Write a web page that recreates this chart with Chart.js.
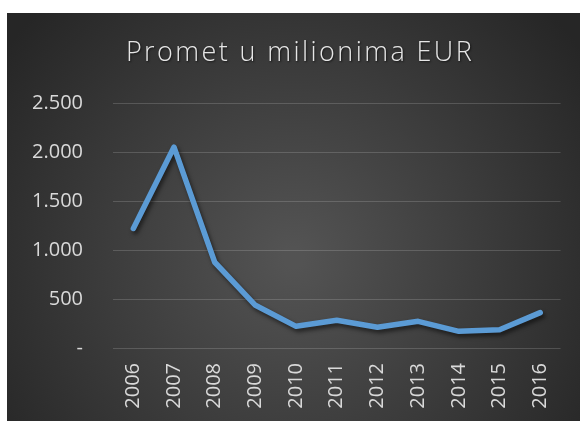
<!DOCTYPE html>
<html>
<head>
<meta charset="utf-8">
<script src="https://cdn.jsdelivr.net/npm/chart.js@4"></script>
<style>
  html, body { margin: 0; padding: 0; background: #fff; }
  #wrap { position: absolute; left: 7px; top: 13px; width: 573px; height: 408px; }
</style>
</head>
<body>
<div id="wrap"><canvas id="promChart" width="573" height="408"></canvas></div>
<script>
const titleText = 'Promet u milionima EUR';
const years = ['2006', '2007', '2008', '2009', '2010', '2011', '2012', '2013', '2014', '2015', '2016'];
const promet = [1220, 2050, 875, 436, 221, 283, 211, 272, 170, 187, 361];
const yMax = 2500;
const yStep = 500;

// 2.500 format, nula kao "-"
const fmt = (v) => v === 0 ? '-' : v.toLocaleString('de-DE');

// pozadina s radijalnim gradijentom
const bgPlugin = {
  id: 'bg',
  beforeDraw: (chart) => {
    const { ctx, width, height } = chart;
    const g = ctx.createRadialGradient(width / 2, height * 0.6, 10, width / 2, height * 0.6, width * 0.62);
    g.addColorStop(0, '#535353');
    g.addColorStop(1, '#262626');
    ctx.save();
    ctx.fillStyle = g;
    ctx.fillRect(0, 0, width, height);
    ctx.restore();
  }
};

// naslov s razmakom slova
const titlePlugin = {
  id: 'spacedTitle',
  afterDraw: (chart) => {
    const ctx = chart.ctx;
    ctx.save();
    ctx.font = '300 27px "Open Sans", sans-serif';
    ctx.letterSpacing = '2.4px';
    ctx.fillStyle = '#e6e6e6';
    ctx.textAlign = 'center';
    ctx.textBaseline = 'middle';
    ctx.shadowColor = 'rgba(0,0,0,0.6)';
    ctx.shadowOffsetX = 1;
    ctx.shadowOffsetY = 1;
    ctx.shadowBlur = 2;
    ctx.fillText(titleText, 293, 40);
    ctx.restore();
  }
};

// sjena ispod linije
const shadowPlugin = {
  id: 'lineShadow',
  beforeDatasetDraw: (chart) => {
    const ctx = chart.ctx;
    ctx.save();
    ctx.shadowColor = 'rgba(0,0,0,0.55)';
    ctx.shadowOffsetX = 2;
    ctx.shadowOffsetY = 3;
    ctx.shadowBlur = 4;
  },
  afterDatasetDraw: (chart) => {
    chart.ctx.restore();
  }
};

const ctx = document.querySelector('#promChart').getContext('2d');
const myChart = new Chart(ctx, {
  type: 'line',
  data: {
    labels: years,
    datasets: [{
      label: titleText,
      data: promet,
      borderColor: '#5b9bd5',
      borderWidth: 5.5,
      borderJoinStyle: 'round',
      borderCapStyle: 'round',
      pointRadius: 0,
      tension: 0,
      fill: false
    }]
  },
  options: {
    responsive: false,
    animation: false,
    layout: { padding: { top: 90, right: 17, left: 0, bottom: 0 } },
    plugins: {
      legend: { display: false },
      title: { display: false },
      tooltip: { enabled: false }
    },
    scales: {
      x: {
        offset: true,
        grid: { display: false, drawTicks: false },
        border: { display: false },
        ticks: {
          color: '#d9d9d9',
          font: { family: '"Open Sans", sans-serif', size: 20 },
          minRotation: 90,
          maxRotation: 90,
          padding: 15,
          autoSkip: false
        },
        afterFit: (scale) => { scale.height = 73; }
      },
      y: {
        min: 0,
        max: yMax,
        grid: { color: 'rgba(255,255,255,0.16)', lineWidth: 1, drawTicks: false },
        border: { display: false },
        ticks: {
          stepSize: yStep,
          color: '#d9d9d9',
          font: { family: '"Open Sans", sans-serif', size: 20 },
          padding: 30,
          callback: (value) => fmt(value)
        },
        afterFit: (scale) => { scale.width = 106; }
      }
    }
  },
  plugins: [bgPlugin, titlePlugin, shadowPlugin]
});
</script>
</body>
</html>
